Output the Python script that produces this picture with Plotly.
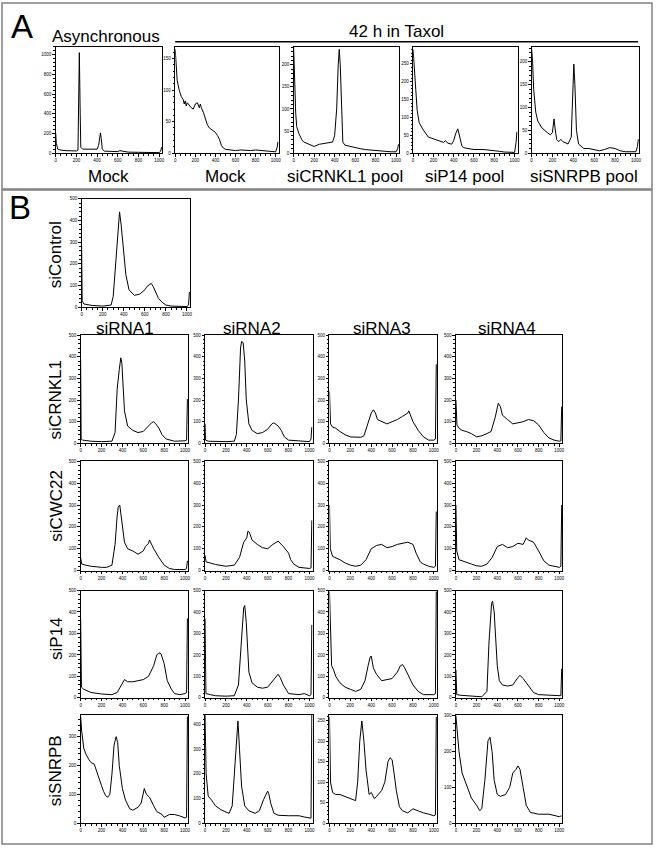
import plotly.graph_objects as go

W, H = 656, 849

# ---------------- Panel A data (DNA content histograms) ----------------
a_async_mock_x = [0, 5, 20, 50, 100, 150, 200, 215, 222, 228, 235, 242, 260, 300, 400, 415, 425, 432, 440, 450, 470, 550, 600, 620, 640, 700, 800, 900, 1000, 1015, 1023]
a_async_mock_y = [200, 100, 40, 30, 25, 22, 22, 30, 500, 1020, 500, 60, 40, 38, 40, 80, 190, 205, 150, 40, 20, 15, 15, 25, 20, 10, 8, 5, 5, 20, 60]

a_mock_x = [0, 10, 20, 40, 60, 80, 90, 100, 110, 120, 140, 160, 180, 200, 220, 240, 250, 260, 280, 300, 320, 340, 360, 380, 400, 420, 440, 460, 480, 500, 540, 600, 650, 700, 750, 800, 850, 900, 950, 1000, 1015, 1023]
a_mock_y = [165, 140, 115, 100, 90, 85, 78, 83, 75, 80, 75, 72, 70, 78, 80, 72, 78, 72, 65, 55, 45, 40, 38, 35, 33, 28, 22, 12, 8, 6, 5, 4, 5, 4, 4, 5, 4, 3, 2, 2, 10, 18]

a_crnkl1_x = [0, 10, 20, 30, 50, 80, 100, 150, 200, 250, 300, 350, 380, 400, 420, 435, 445, 455, 470, 480, 500, 550, 600, 650, 700, 750, 800, 850, 900, 950, 1000, 1015, 1023]
a_crnkl1_y = [240, 140, 90, 60, 45, 30, 25, 20, 15, 20, 22, 25, 25, 40, 100, 200, 235, 200, 80, 25, 18, 15, 13, 10, 8, 7, 6, 4, 3, 3, 3, 10, 20]

a_p14_x = [0, 10, 20, 40, 60, 100, 150, 200, 250, 300, 320, 340, 380, 400, 420, 440, 460, 480, 500, 550, 600, 700, 800, 850, 900, 1000, 1015, 1023]
a_p14_y = [290, 250, 200, 120, 85, 65, 45, 40, 35, 30, 35, 28, 25, 35, 55, 68, 45, 20, 15, 12, 10, 10, 8, 5, 3, 2, 30, 60]

a_snrpb_x = [0, 10, 20, 40, 60, 100, 150, 180, 200, 215, 225, 240, 260, 280, 300, 350, 380, 395, 405, 415, 430, 450, 500, 550, 600, 650, 700, 750, 800, 850, 900, 1000, 1015, 1023]
a_snrpb_y = [230, 200, 140, 90, 70, 55, 45, 40, 45, 75, 55, 30, 25, 30, 25, 20, 35, 120, 195, 150, 50, 20, 10, 10, 8, 5, 8, 12, 10, 5, 3, 3, 15, 30]

# ---------------- Panel B data ----------------
b_control_x = [0, 5, 20, 100, 200, 280, 300, 330, 350, 360, 375, 385, 400, 420, 450, 500, 550, 600, 620, 650, 660, 680, 700, 730, 770, 800, 850, 900, 950, 1000, 1015, 1023]
b_control_y = [280, 30, 15, 8, 5, 10, 50, 250, 420, 440, 380, 330, 280, 150, 80, 55, 60, 80, 95, 105, 110, 95, 70, 40, 20, 10, 5, 5, 3, 3, 10, 70]

b_crnkl1_1_x = [0, 5, 20, 100, 200, 300, 330, 350, 370, 385, 395, 405, 420, 450, 500, 550, 600, 650, 680, 700, 720, 750, 780, 820, 900, 1000, 1015, 1023]
b_crnkl1_1_y = [390, 20, 15, 10, 8, 10, 50, 250, 340, 395, 370, 260, 150, 80, 60, 50, 55, 80, 95, 100, 90, 70, 40, 20, 10, 12, 15, 205]
b_crnkl1_2_x = [0, 5, 30, 100, 200, 280, 300, 320, 340, 350, 365, 380, 395, 420, 450, 500, 550, 600, 640, 660, 700, 730, 760, 800, 900, 1000, 1015, 1023]
b_crnkl1_2_y = [90, 15, 10, 8, 8, 10, 40, 200, 440, 470, 465, 380, 200, 90, 60, 45, 50, 65, 90, 95, 80, 60, 30, 15, 10, 8, 20, 75]
b_crnkl1_3_x = [0, 10, 30, 60, 100, 150, 200, 250, 300, 330, 370, 400, 420, 440, 460, 500, 550, 600, 650, 700, 750, 760, 780, 800, 850, 900, 950, 1000, 1015, 1023]
b_crnkl1_3_y = [240, 90, 75, 70, 55, 40, 30, 30, 28, 35, 90, 140, 155, 140, 110, 100, 90, 100, 110, 125, 140, 150, 125, 100, 60, 30, 15, 15, 20, 365]
b_crnkl1_4_x = [0, 10, 30, 60, 100, 150, 200, 250, 300, 340, 380, 410, 430, 450, 500, 550, 600, 650, 700, 750, 800, 850, 900, 950, 1000, 1015, 1023]
b_crnkl1_4_y = [200, 85, 70, 60, 55, 45, 30, 35, 45, 55, 120, 185, 170, 130, 110, 90, 95, 100, 110, 105, 85, 50, 25, 15, 10, 12, 170]

b_cwc22_1_x = [0, 10, 50, 100, 200, 250, 300, 330, 350, 360, 375, 385, 400, 420, 450, 500, 550, 580, 600, 620, 650, 660, 680, 700, 750, 800, 850, 900, 1000, 1015, 1023]
b_cwc22_1_y = [60, 30, 25, 20, 15, 15, 25, 120, 250, 290, 300, 260, 200, 130, 100, 90, 75, 85, 90, 110, 125, 140, 120, 100, 60, 25, 10, 5, 5, 10, 45]
b_cwc22_2_x = [0, 10, 50, 100, 200, 280, 330, 370, 400, 410, 425, 450, 500, 550, 600, 630, 650, 700, 720, 750, 800, 820, 850, 900, 1000, 1015, 1023]
b_cwc22_2_y = [70, 40, 35, 28, 20, 25, 60, 130, 150, 180, 175, 140, 120, 105, 100, 115, 120, 135, 125, 110, 80, 50, 30, 15, 10, 12, 230]
b_cwc22_3_x = [0, 8, 30, 100, 150, 200, 250, 300, 350, 380, 400, 450, 500, 550, 600, 650, 700, 750, 800, 830, 870, 900, 950, 1000, 1015, 1023]
b_cwc22_3_y = [300, 100, 65, 50, 35, 25, 20, 25, 50, 80, 100, 115, 120, 105, 110, 120, 125, 130, 120, 80, 40, 30, 20, 15, 20, 270]
b_cwc22_4_x = [0, 8, 30, 100, 150, 200, 250, 300, 350, 380, 400, 450, 500, 550, 600, 650, 680, 700, 750, 800, 850, 900, 950, 1000, 1015, 1023]
b_cwc22_4_y = [300, 90, 50, 40, 30, 22, 20, 30, 60, 90, 110, 120, 105, 110, 125, 120, 150, 140, 130, 90, 45, 25, 20, 15, 20, 300]

b_p14_1_x = [0, 8, 30, 100, 200, 300, 350, 380, 420, 450, 500, 550, 600, 650, 700, 730, 750, 770, 800, 830, 870, 900, 950, 1000, 1015, 1023]
b_p14_1_y = [370, 50, 40, 25, 18, 15, 25, 50, 85, 75, 75, 80, 85, 100, 150, 200, 210, 205, 160, 80, 40, 20, 15, 20, 25, 370]
b_p14_2_x = [0, 8, 50, 100, 200, 280, 320, 350, 370, 380, 395, 420, 450, 500, 550, 600, 650, 680, 700, 720, 750, 800, 900, 950, 1000, 1015, 1023]
b_p14_2_y = [370, 20, 15, 10, 8, 10, 60, 300, 420, 430, 350, 120, 70, 50, 45, 50, 80, 100, 110, 95, 60, 20, 15, 20, 10, 15, 340]
b_p14_3_x = [0, 10, 20, 40, 60, 100, 150, 200, 250, 300, 340, 370, 390, 400, 420, 450, 500, 550, 600, 650, 680, 700, 720, 750, 800, 850, 900, 1000, 1015, 1023]
b_p14_3_y = [495, 280, 150, 130, 100, 70, 50, 40, 30, 40, 80, 150, 190, 195, 140, 110, 80, 85, 90, 120, 150, 155, 140, 110, 60, 30, 15, 15, 20, 495]
b_p14_4_x = [0, 8, 50, 100, 200, 250, 300, 320, 345, 355, 370, 390, 400, 420, 450, 500, 550, 600, 620, 650, 700, 750, 800, 900, 1000, 1015, 1023]
b_p14_4_y = [130, 15, 12, 10, 8, 5, 30, 260, 440, 450, 400, 200, 150, 80, 60, 55, 60, 95, 105, 90, 60, 25, 15, 12, 8, 10, 135]

b_snrpb_1_x = [0, 10, 30, 50, 80, 100, 130, 160, 200, 220, 240, 260, 280, 300, 320, 340, 355, 370, 400, 430, 470, 500, 550, 580, 610, 630, 660, 700, 730, 780, 800, 850, 900, 950, 1000, 1015, 1023]
b_snrpb_1_y = [370, 320, 260, 240, 220, 210, 205, 170, 130, 110, 95, 90, 100, 170, 270, 300, 280, 200, 120, 80, 50, 45, 55, 70, 120, 100, 90, 60, 40, 30, 20, 30, 30, 25, 18, 20, 370]
b_snrpb_2_x = [0, 10, 30, 60, 100, 150, 200, 230, 260, 280, 300, 315, 330, 350, 380, 420, 480, 520, 560, 580, 600, 610, 630, 660, 700, 800, 900, 950, 1000, 1015, 1023]
b_snrpb_2_y = [440, 200, 110, 95, 70, 55, 45, 40, 70, 200, 350, 415, 300, 150, 70, 50, 40, 50, 95, 115, 130, 120, 80, 40, 32, 30, 30, 25, 20, 20, 440]
b_snrpb_3_x = [0, 10, 30, 60, 100, 150, 200, 250, 270, 290, 310, 330, 350, 380, 400, 430, 450, 500, 530, 560, 580, 600, 620, 640, 670, 700, 750, 800, 850, 900, 950, 1000, 1015, 1023]
b_snrpb_3_y = [260, 100, 75, 70, 70, 65, 60, 55, 100, 200, 250, 200, 130, 70, 75, 60, 65, 80, 100, 150, 160, 155, 120, 80, 40, 30, 25, 35, 30, 25, 22, 18, 20, 260]
b_snrpb_4_x = [0, 10, 30, 60, 100, 150, 200, 230, 250, 280, 310, 330, 350, 370, 400, 430, 480, 520, 550, 580, 600, 620, 650, 680, 720, 800, 900, 1000, 1015, 1023]
b_snrpb_4_y = [300, 260, 200, 140, 110, 70, 50, 35, 40, 120, 230, 240, 200, 120, 80, 75, 80, 100, 140, 150, 160, 150, 100, 50, 30, 25, 25, 18, 20, 20]

panel_a_labels = ["Mock", "Mock", "siCRNKL1 pool", "siP14 pool", "siSNRPB pool"]
row_labels = ["siCRNKL1", "siCWC22", "siP14", "siSNRPB"]
col_labels = ["siRNA1", "siRNA2", "siRNA3", "siRNA4"]
x_ticks = [0, 200, 400, 600, 800, 1000]

# ---------------- layout geometry (pixels) ----------------
a_cols = [(55, 162), (175, 279), (294, 400), (414, 519), (533, 641)]
a_top, a_bot = 45, 152
b_cols = [(80, 188), (205, 313), (330, 438), (457, 564)]
b_rows = [(335, 444), (462, 572), (592, 700), (717, 826)]
ctrl_box = (81, 190, 198, 307)

panels = []
a_data = [(a_async_mock_x, a_async_mock_y, 1080, 200),
          (a_mock_x, a_mock_y, 169, 50),
          (a_crnkl1_x, a_crnkl1_y, 241, 50),
          (a_p14_x, a_p14_y, 298, 50),
          (a_snrpb_x, a_snrpb_y, 233, 50)]
for (l, r), (xs, ys, ymax, dt) in zip(a_cols, a_data):
    panels.append((xs, ys, l, r, a_top, a_bot, ymax, dt))
panels.append((b_control_x, b_control_y, ctrl_box[0], ctrl_box[1], ctrl_box[2], ctrl_box[3], 500, 100))
b_data = [
    [(b_crnkl1_1_x, b_crnkl1_1_y, 500, 100), (b_crnkl1_2_x, b_crnkl1_2_y, 500, 100),
     (b_crnkl1_3_x, b_crnkl1_3_y, 500, 100), (b_crnkl1_4_x, b_crnkl1_4_y, 500, 100)],
    [(b_cwc22_1_x, b_cwc22_1_y, 500, 100), (b_cwc22_2_x, b_cwc22_2_y, 500, 100),
     (b_cwc22_3_x, b_cwc22_3_y, 500, 100), (b_cwc22_4_x, b_cwc22_4_y, 500, 100)],
    [(b_p14_1_x, b_p14_1_y, 500, 100), (b_p14_2_x, b_p14_2_y, 500, 100),
     (b_p14_3_x, b_p14_3_y, 500, 100), (b_p14_4_x, b_p14_4_y, 500, 100)],
    [(b_snrpb_1_x, b_snrpb_1_y, 376, 100), (b_snrpb_2_x, b_snrpb_2_y, 440, 100),
     (b_snrpb_3_x, b_snrpb_3_y, 265, 50), (b_snrpb_4_x, b_snrpb_4_y, 303, 100)],
]
for (t, b), row in zip(b_rows, b_data):
    for (l, r), (xs, ys, ymax, dt) in zip(b_cols, row):
        panels.append((xs, ys, l, r, t, b, ymax, dt))

fig = go.Figure()
layout = {}
for i, (xs, ys, l, r, t, b, ymax, dt) in enumerate(panels, 1):
    sx = "" if i == 1 else str(i)
    fig.add_trace(go.Scatter(x=xs, y=ys, mode="lines", line=dict(color="black", width=1),
                             xaxis="x" + sx, yaxis="y" + sx, showlegend=False, hoverinfo="skip"))
    common = dict(showline=True, mirror=True, linecolor="black", linewidth=1,
                  showgrid=False, zeroline=False, ticks="outside", ticklen=2.5,
                  tickwidth=0.8, tickcolor="black",
                  tickfont=dict(size=4.5, color="black", family="Liberation Sans"))
    layout["xaxis" + sx] = dict(domain=[l / W, r / W], anchor="y" + sx, range=[0, 1030],
                                tickvals=x_ticks,
                                minor=dict(dtick=50, tick0=0, ticks="outside", ticklen=1.5,
                                           tickcolor="black", tickwidth=0.6),
                                **common)
    layout["yaxis" + sx] = dict(domain=[1 - b / H, 1 - t / H], anchor="x" + sx, range=[0, ymax],
                                dtick=dt, tick0=0,
                                minor=dict(dtick=dt / 5, tick0=0, ticks="outside", ticklen=1.5,
                                           tickcolor="black", tickwidth=0.6),
                                **common)

annotations = []
def txt(x, y, s, size=17, angle=0):
    annotations.append(dict(x=x / W, y=1 - y / H, xref="paper", yref="paper", text=s,
                            showarrow=False, textangle=angle, xanchor="center", yanchor="middle",
                            font=dict(size=size, color="black", family="Liberation Sans")))

txt(21, 25, "A", 33)
txt(19, 207, "B", 33)
txt(105, 35, "Asynchronous")
txt(397, 30, "42 h in Taxol")
for (l, r), s in zip(a_cols, panel_a_labels):
    txt((l + r) / 2 - 1, 176, s)
txt(55, 254, "siControl", angle=-90)
for x, s in zip([125, 252, 383, 508], col_labels):
    txt(x, 328, s)
for y, s in zip([400, 507, 640, 773], row_labels):
    txt(55, y, s, angle=-90)

shapes = [
    dict(type="rect", xref="paper", yref="paper", x0=1 / W, x1=654 / W, y0=1 - 188 / H, y1=1 - 1 / H,
         line=dict(color="#808080", width=1.5)),
    dict(type="rect", xref="paper", yref="paper", x0=1 / W, x1=654 / W, y0=1 - 847 / H, y1=1 - 189 / H,
         line=dict(color="#808080", width=1.5)),
    dict(type="line", xref="paper", yref="paper", x0=175 / W, x1=640 / W, y0=1 - 40 / H, y1=1 - 40 / H,
         line=dict(color="black", width=1.5)),
]

fig.update_layout(width=W, height=H, margin=dict(l=0, r=0, t=0, b=0),
                  paper_bgcolor="white", plot_bgcolor="white",
                  annotations=annotations, shapes=shapes,
                  font=dict(family="Liberation Sans"), **layout)
fig.write_html("out.html", config={"displayModeBar": False},
               post_script="document.body.style.margin='0';document.body.style.overflow='hidden';")
